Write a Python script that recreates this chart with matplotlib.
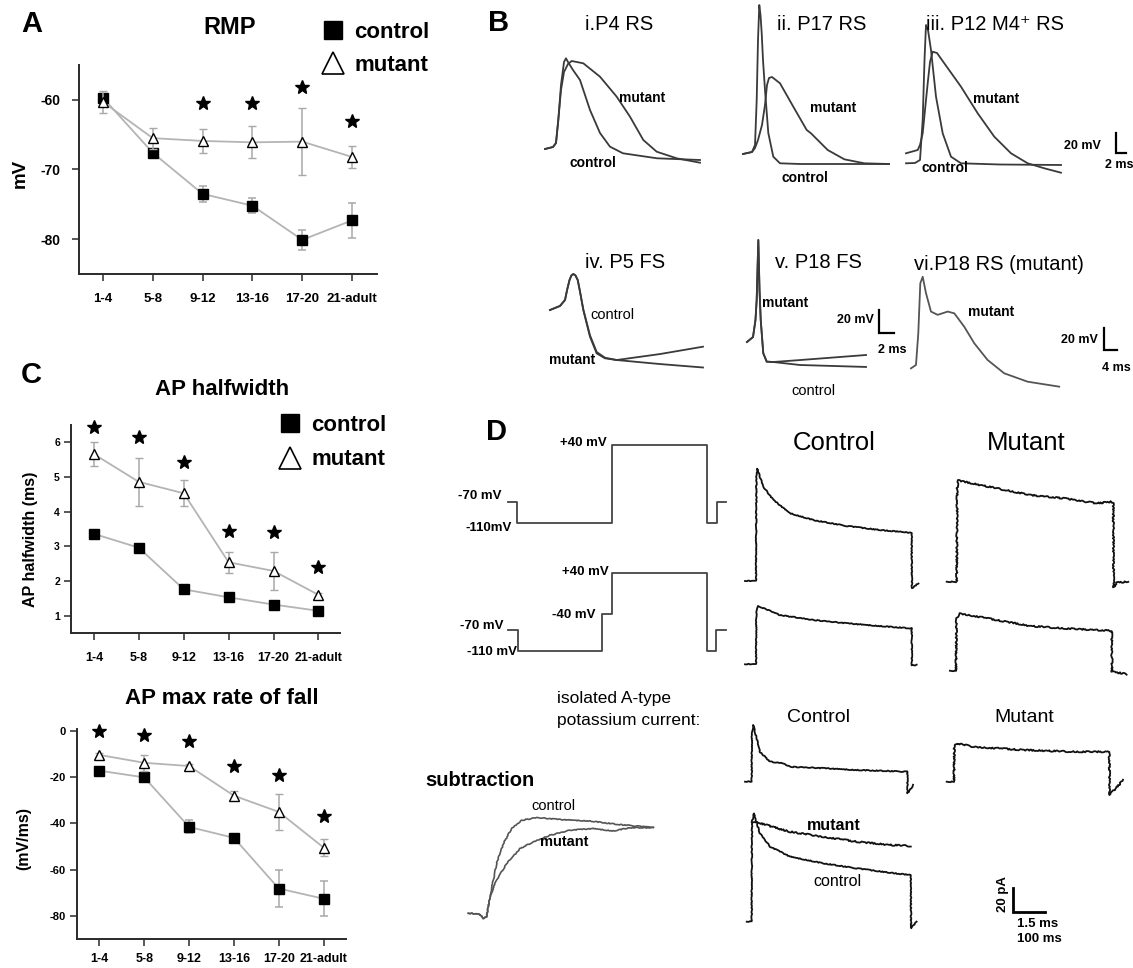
import numpy as np
import matplotlib
matplotlib.use("Agg")
import matplotlib.pyplot as plt
from matplotlib.lines import Line2D

plt.rcParams['font.family'] = ['Liberation Sans', 'DejaVu Sans']
plt.rcParams['axes.unicode_minus'] = False
NARROW = ['Liberation Sans Narrow', 'Liberation Sans', 'DejaVu Sans']

# ---------------- data ----------------
groups = ['1-4', '5-8', '9-12', '13-16', '17-20', '21-adult']

rmp_control = [-59.7, -67.6, -73.5, -75.2, -80.1, -77.3]
rmp_control_err = [0.6, 0.5, 1.1, 1.1, 1.4, 2.5]
rmp_mutant = [-60.3, -65.5, -65.9, -66.1, -66.0, -68.2]
rmp_mutant_err = [1.6, 1.5, 1.7, 2.3, 4.8, 1.6]
rmp_star_y = [np.nan, np.nan, -60.4, -60.4, -58.1, -63.1]

hw_control = [3.36, 2.96, 1.76, 1.53, 1.32, 1.14]
hw_control_err = [0.05, 0.05, 0.04, 0.04, 0.04, 0.03]
hw_mutant = [5.66, 4.86, 4.53, 2.54, 2.29, 1.60]
hw_mutant_err = [0.35, 0.69, 0.37, 0.30, 0.54, 0.05]
hw_star_y = [6.45, 6.16, 5.42, 3.45, 3.42, 2.41]

fall_control = [-17.3, -20.2, -41.6, -46.3, -68.2, -72.6]
fall_control_err = [1.0, 1.0, 2.8, 1.5, 8.1, 7.6]
fall_mutant = [-10.5, -13.9, -15.3, -28.1, -35.1, -50.5]
fall_mutant_err = [1.0, 3.5, 1.0, 2.0, 7.9, 3.7]
fall_star_y = [0.0, -1.9, -4.5, -15.3, -19.2, -36.8]

# B: action potentials (ms, mV relative to baseline)
p4_ctrl_t = [0, 1.6, 2.2, 2.66, 3.2, 3.8, 4.2, 4.6, 5.6, 7, 9, 11, 13, 15.6, 22.4, 31]
p4_ctrl_v = [0, 2, 6, 29, 64, 87, 90.7, 87, 79, 69, 39, 16, 2.3, -4.3, -9.3, -11]
p4_mut_t = [0, 1.6, 2.2, 2.66, 3.2, 3.8, 4.6, 5.34, 7.66, 11, 14.34, 17, 19.66, 22.34, 26.34, 31]
p4_mut_v = [0, 2, 6, 29, 59, 77, 85, 88, 85.7, 72.3, 52.3, 32.3, 9, -2.7, -9.3, -13.7]

p17_ctrl_t = [0, 1.8, 2.4, 2.74, 3, 3.26, 3.5, 3.74, 4, 4.4, 5.06, 6.06, 7.4, 11.4, 29.2]
p17_ctrl_v = [0, 2, 9, 54, 114, 149, 139, 121, 94, 64, 21, -2.7, -9.3, -10, -10]
p17_mut_t = [0, 1.8, 2.4, 3, 3.8, 4.4, 4.8, 5.2, 5.8, 7.4, 10.06, 12.74, 13.6, 16.94, 20.26, 24.26, 29.2]
p17_mut_v = [0, 2, 6, 14, 29, 49, 69, 76, 77, 70.7, 47.3, 24, 20.7, 4, -5.3, -9.3, -10]

p12_ctrl_t = [0, 1.8, 2.8, 3.34, 3.7, 4, 4.4, 5, 6, 7.34, 9, 11, 18.8, 31]
p12_ctrl_v = [-0.3, 0, 3, 43, 103, 138, 133, 113, 66.3, 29.7, 6.3, -0.3, -1.5, -2]
p12_mut_t = [0, 2.34, 2.8, 3.34, 3.8, 4.34, 4.8, 5.34, 6.2, 7.66, 11, 14.34, 17.66, 21, 24.34, 27.66, 31]
p12_mut_v = [9.7, 13, 18, 29.7, 53, 79.7, 101, 111.3, 110, 99.7, 76.3, 49.7, 26.3, 9.7, -0.3, -5.3, -9.7]

p5_ctrl_t = [0, 1.33, 2, 2.3, 2.6, 2.85, 3.11, 3.4, 3.7, 4.0, 4.44, 5.33, 6.22, 7.33, 8.89, 14.67, 20.4]
p5_ctrl_v = [0, 3.5, 8.7, 18, 26, 30, 31.3, 30, 26, 16, 0, -23.2, -37.7, -42, -43.5, -47, -50]
p5_mut_t = [0, 1.33, 2, 2.3, 2.6, 2.85, 3.11, 3.4, 3.7, 4.0, 4.44, 5.33, 6.22, 7.33, 8.89, 14.67, 20.4]
p5_mut_v = [0, 3.5, 8.7, 18, 26, 30, 31.3, 30, 26, 16, 0.5, -22, -36.5, -41.5, -43.5, -38.3, -31.9]

p18fs_ctrl_t = [0, 0.8, 1.13, 1.29, 1.51, 1.67, 1.83, 2.17, 2.63, 3.51, 7.07, 15.87]
p18fs_ctrl_v = [0, 4.3, 19.1, 36.5, 88.7, 45.2, 19.1, -9.8, -17.1, -17.4, -20, -21.7]
p18fs_mut_t = [0, 0.8, 1.13, 1.29, 1.51, 1.67, 1.83, 2.17, 2.63, 3.51, 7.07, 15.87]
p18fs_mut_v = [0, 4.3, 19.1, 36.5, 88.7, 45.2, 19.1, -9.8, -17.1, -17.4, -15.7, -11.3]

p18rs_mut_t = [0, 1.5, 2.19, 2.79, 3.51, 4.5, 6, 8.01, 11.02, 13, 16, 19, 23, 28, 35, 44.5]
p18rs_mut_v = [-0.3, 2.8, 32, 78, 84.1, 69, 52, 49, 52, 50.4, 38, 22.8, 7.4, -4.9, -12.6, -17.2]

# D: voltage protocols (ms, mV)
prot1_t = [0, 45, 45, 545, 545, 1045, 1045, 1100, 1100, 1145]
prot1_v = [-70, -70, -110, -110, 40, 40, -110, -110, -70, -70]
prot2_t = [0, 52, 52, 495, 495, 545, 545, 1045, 1045, 1095, 1095, 1145]
prot2_v = [-70, -70, -110, -110, -40, -40, 40, 40, -110, -110, -70, -70]

# D: currents (ms, pA)
ctrl_total_t = [0, 31.5, 34.7, 36, 38.8, 57.7, 89.3, 142, 215.5, 320.8, 425.9, 520.5, 525.9, 526.5, 546.7]
ctrl_total_i = [0, 0, 0, 90, 96, 80.6, 69.2, 57.9, 52.1, 47, 43.6, 41.3, 41.3, -6.2, -2]
ctrl_pre_t = [0, 31.5, 34.7, 36, 42, 110.4, 215.5, 320.8, 425.9, 520.5, 525.9, 526.5, 541.6]
ctrl_pre_i = [0, 0, 0, 45, 49.8, 42.1, 37.9, 35, 32.7, 30.8, 30.8, -0.9, -0.6]
mut_total_t = [0, 29, 31.5, 33, 36.6, 52.4, 157.7, 262.8, 367.8, 473.2, 520.5, 525.6, 526.5, 536.3, 572.9]
mut_total_i = [0, 0, 0, 80, 86.9, 85.5, 79.8, 74.1, 71.3, 67, 68.4, 67, -4.8, -0.9, 0]
mut_pre_t = [10, 29, 29.3, 31, 42, 157.7, 262.8, 367.8, 515, 520.5, 521.5, 567.8]
mut_pre_i = [0, 0, 0, 45, 49, 43.3, 38.2, 36.2, 34.2, 34.2, -0.9, -2.8]

ia_ctrl_t = [0, 21, 22, 26, 47, 79, 121, 142, 247, 352, 457, 510, 512, 513, 531]
ia_ctrl_i = [0, 0, 40, 48.5, 25.6, 17.1, 15.7, 12.8, 11.5, 10, 9.1, 8.5, 8.5, -9.9, -2.8]
ia_mut_t = [0, 23, 24, 31.5, 84, 241.6, 399.4, 504.7, 513, 514, 557]
ia_mut_i = [0, 0, 30, 32.8, 29.9, 27.1, 25.6, 25.6, 25.6, -11.4, 1.5]

ov_ctrl_t = [5.4, 21, 22, 28, 47, 79, 121, 142, 247, 352, 457, 520.5, 523, 524, 541.6]
ov_ctrl_i = [0, 0, 85, 92.6, 75.6, 64.1, 58.5, 55.6, 49.9, 45.6, 41.9, 39.9, 39.9, -5.6, 0]
ov_mut_t = [22, 31.5, 121, 142, 247, 352, 457, 523]
ov_mut_i = [85, 85.5, 78.4, 76.9, 72.6, 68.4, 65.6, 64.7]

sub_ctrl_t = [0, 0.55, 0.71, 0.87, 1.03, 1.34, 1.66, 2.05, 2.53, 3.24, 4.35, 5.77, 7.04, 8.77]
sub_ctrl_i = [0, -0.9, -4.3, -2.9, 14, 42.5, 59.6, 72.4, 79.5, 81.8, 80.1, 78.9, 76.1, 73.2]
sub_mut_t = [0, 0.55, 0.71, 0.87, 1.03, 1.34, 1.82, 2.45, 3.08, 3.87, 4.82, 5.92, 6.87, 7.66, 8.77]
sub_mut_i = [0, -0.9, -4.3, -2.9, 14, 28.5, 42.5, 55.3, 61, 66.7, 71, 72.4, 70.4, 73.2, 73.2]

# ---------------- figure ----------------
W, H = 1133, 968
fig = plt.figure(figsize=(W / 100, H / 100), dpi=100)
fig.patch.set_facecolor('white')


def box(x0, y0, x1, y1):
    return [x0 / W, 1 - y1 / H, (x1 - x0) / W, (y1 - y0) / H]


def ftxt(x, y, s, **kw):
    kw.setdefault('ha', 'center')
    kw.setdefault('va', 'center')
    fig.text(x / W, 1 - y / H, s, **kw)


LINE = '#b4b4b4'
ERR = '#a8a8a8'
AX = '#2a2a2a'


def dev_axes(rect, xlim, ylim, yticks, ctrl, ctrl_err, mut, mut_err, stars,
             ytick_fs, xtick_fs, ypad, xpad=9):
    ax = fig.add_axes(rect)
    x = np.arange(len(groups))
    ax.errorbar(x, ctrl, yerr=ctrl_err, color=LINE, lw=1.3, ecolor=ERR,
                elinewidth=1.1, capsize=3, capthick=1.1, marker='s', ms=6.5,
                mfc='black', mec='black', zorder=3)
    ax.errorbar(x, mut, yerr=mut_err, color=LINE, lw=1.3, ecolor=ERR,
                elinewidth=1.1, capsize=3, capthick=1.1, marker='^', ms=7.5,
                mfc='white', mec='black', mew=1.0, zorder=4)
    ax.plot(x, stars, ls='none', marker='*', ms=10.5, color='black',
            clip_on=False, zorder=5)
    ax.set_xlim(*xlim)
    ax.set_ylim(*ylim)
    ax.set_yticks(yticks)
    ax.set_xticks(x)
    ax.set_xticklabels(groups, fontweight='bold', fontsize=xtick_fs)
    for lab in ax.get_yticklabels():
        lab.set_fontweight('bold')
        lab.set_fontsize(ytick_fs)
    for s in ('top', 'right'):
        ax.spines[s].set_visible(False)
    for s in ('left', 'bottom'):
        ax.spines[s].set_color(AX)
        ax.spines[s].set_linewidth(1.4)
    ax.tick_params(axis='x', direction='out', length=5, width=1.1, pad=xpad,
                   colors=AX, labelcolor='black')
    ax.tick_params(axis='y', direction='out', length=5, width=1.1, pad=ypad,
                   colors=AX, labelcolor='black')
    ax.set_facecolor('none')
    return ax


def dev_legend(ax, x_left, y_top, spacing):
    h = [Line2D([], [], ls='none', marker='s', ms=13, mfc='black', mec='black'),
         Line2D([], [], ls='none', marker='^', ms=16, mfc='white', mec='black', mew=1.2)]
    ax.legend(h, ['control', 'mutant'], loc='upper left',
              bbox_to_anchor=(x_left / W, 1 - y_top / H),
              bbox_transform=fig.transFigure, frameon=False,
              prop={'weight': 'bold', 'size': 16}, handlelength=1.0,
              handletextpad=0.45, borderpad=0, borderaxespad=0,
              labelspacing=spacing)


# ---- Panel A ----
axA = dev_axes(box(79, 65, 377, 274), (-0.48, 5.5), (-85, -55), [-60, -70, -80],
               rmp_control, rmp_control_err, rmp_mutant, rmp_mutant_err,
               rmp_star_y, 10, 9.5, 8)
dev_legend(axA, 322, 22, 0.55)
ftxt(32, 24, 'A', fontsize=21, fontweight='bold')
ftxt(230, 28, 'RMP', fontsize=17, fontweight='bold')
ftxt(20, 173, 'mV', fontsize=13.5, fontweight='bold', rotation=90)

# ---- Panel C ----
axC1 = dev_axes(box(71, 425, 340, 633), (-0.51, 5.48), (0.5, 6.5), [1, 2, 3, 4, 5, 6],
                hw_control, hw_control_err, hw_mutant, hw_mutant_err,
                hw_star_y, 7.5, 9, 3)
dev_legend(axC1, 279, 415, 0.6)
ftxt(31, 375, 'C', fontsize=21, fontweight='bold')
ftxt(222, 389, 'AP halfwidth', fontsize=16, fontweight='bold')
ftxt(31, 539, 'AP halfwidth (ms)', fontsize=11.5, fontweight='bold', rotation=90)

axC2 = dev_axes(box(77, 729, 346, 939), (-0.5, 5.5), (-90, 0.7), [0, -20, -40, -60, -80],
                fall_control, fall_control_err, fall_mutant, fall_mutant_err,
                fall_star_y, 8, 9, 3, xpad=5)
ftxt(222, 699, 'AP max rate of fall', fontsize=16, fontweight='bold')
ftxt(24, 838, '(mV/ms)', fontsize=11.5, fontweight='bold', rotation=90)

# ---------------- trace helper ----------------
TR = '#3a3a3a'


def trace_axes(ox, oy, sx, sy, xlim, ylim):
    left = ox + xlim[0] * sx
    right = ox + xlim[1] * sx
    top = oy - ylim[1] * sy
    bottom = oy - ylim[0] * sy
    ax = fig.add_axes(box(left, top, right, bottom))
    ax.set_xlim(*xlim)
    ax.set_ylim(*ylim)
    ax.axis('off')
    return ax


def tr(ax, t, v, color=TR, lw=1.3, sketch=None):
    ln, = ax.plot(t, v, color=color, lw=lw, clip_on=False,
                  solid_joinstyle='round')
    if sketch is not None:
        ln.set_sketch_params(*sketch)
    return ln


def scalebar(ax, x0, y0, dx, dy, lw=1.6):
    ax.plot([x0, x0, x0 + dx], [y0 + dy, y0, y0], color='black', lw=lw,
            clip_on=False, solid_joinstyle='miter')


NL = dict(family=NARROW, fontweight='bold', fontsize=10)

# ---- Panel B ----
ftxt(499, 23, 'B', fontsize=21, fontweight='bold')
ftxt(619, 25, 'i.P4 RS', fontsize=14.5)
ftxt(822, 25, 'ii. P17 RS', fontsize=14.5)
ftxt(995, 25, 'iii. P12 M4\u207a RS', fontsize=14.5)
ftxt(625, 263, 'iv. P5 FS', fontsize=14.5)
ftxt(818, 263, 'v. P18 FS', fontsize=14.5)
ftxt(999, 264, 'vi.P18 RS (mutant)', fontsize=14.5)

axi = trace_axes(545, 149, 5, 1, (-2, 32), (-20, 95))
tr(axi, p4_ctrl_t, p4_ctrl_v)
tr(axi, p4_mut_t, p4_mut_v)
ftxt(642, 98, 'mutant', **NL)
ftxt(593, 163, 'control', **NL)

axii = trace_axes(743, 154, 5, 1, (-2, 30), (-15, 152))
tr(axii, p17_ctrl_t, p17_ctrl_v)
tr(axii, p17_mut_t, p17_mut_v)
ftxt(833, 108, 'mutant', **NL)
ftxt(805, 178, 'control', **NL)

axiii = trace_axes(906, 163, 5, 1, (-2, 46), (-15, 140))
tr(axiii, p12_ctrl_t, p12_ctrl_v)
tr(axiii, p12_mut_t, p12_mut_v)
scalebar(axiii, 42, 10, 2, 20)
ftxt(996, 99, 'mutant', **NL)
ftxt(945, 168, 'control', **NL)
ftxt(1101, 146, '20 mV', ha='right', family=NARROW, fontweight='bold', fontsize=9)
ftxt(1119, 165, '2 ms', family=NARROW, fontweight='bold', fontsize=9)

axiv = trace_axes(550, 310, 7.5, 1.15, (-1, 21), (-55, 35))
tr(axiv, p5_ctrl_t, p5_ctrl_v)
tr(axiv, p5_mut_t, p5_mut_v)
ftxt(612, 315, 'control', family=NARROW, fontsize=10.5)
ftxt(572, 360, 'mutant', **NL)

axv = trace_axes(747, 342, 7.5, 1.15, (-1, 20.5), (-25, 92))
tr(axv, p18fs_ctrl_t, p18fs_ctrl_v)
tr(axv, p18fs_mut_t, p18fs_mut_v)
scalebar(axv, 17.6, 7.6, 2, 20)
ftxt(785, 303, 'mutant', **NL)
ftxt(813, 391, 'control', family=NARROW, fontsize=10.5)
ftxt(874, 320, '20 mV', ha='right', family=NARROW, fontweight='bold', fontsize=9)
ftxt(892, 350, '2 ms', family=NARROW, fontweight='bold', fontsize=9)

axvi = trace_axes(911, 368, 3.33, 1.085, (-1, 63), (-20, 90))
tr(axvi, p18rs_mut_t, p18rs_mut_v, color='#555555')
scalebar(axvi, 58, 16.6, 4, 20)
ftxt(991, 312, 'mutant', **NL)
ftxt(1098, 340, '20 mV', ha='right', family=NARROW, fontweight='bold', fontsize=9)
ftxt(1116, 368, '4 ms', family=NARROW, fontweight='bold', fontsize=9)

# ---- Panel D ----
ftxt(496, 432, 'D', fontsize=21, fontweight='bold')
PR = '#444444'
VL = dict(fontsize=9.5, fontweight='bold', ha='right')

axp1 = trace_axes(508.3, 465.9, 0.19, 0.52, (-5, 1150), (-115, 45))
tr(axp1, prot1_t, prot1_v, color=PR, lw=1.3)
ftxt(607, 443, '+40 mV', **VL)
ftxt(502, 496, '-70 mV', **VL)
ftxt(512, 528, '-110mV', **VL)

axp2 = trace_axes(508.3, 593.6, 0.19, 0.52, (-5, 1150), (-115, 45))
tr(axp2, prot2_t, prot2_v, color=PR, lw=1.3)
ftxt(609, 572, '+40 mV', **VL)
ftxt(595, 615, '-40 mV', **VL)
ftxt(503, 626, '-70 mV', **VL)
ftxt(517, 652, '-110 mV', **VL)

ftxt(834, 443, 'Control', fontsize=18.5)
ftxt(1026, 443, 'Mutant', fontsize=18.5)

SX, SY = 0.317, 1.17
NOISY = (0.7, 2.5, 12)
LIGHT = (0.4, 3, 12)
CT = '#111111'

ax_c1 = trace_axes(745, 581, SX, SY, (-5, 560), (-10, 100))
tr(ax_c1, ctrl_total_t, ctrl_total_i, color=CT, lw=1.3, sketch=LIGHT)
ax_c2 = trace_axes(745, 664.3, SX, SY, (-5, 560), (-10, 55))
tr(ax_c2, ctrl_pre_t, ctrl_pre_i, color=CT, lw=1.3, sketch=LIGHT)
ax_m1 = trace_axes(946.7, 581.7, SX, SY, (-5, 580), (-10, 100))
tr(ax_m1, mut_total_t, mut_total_i, color=CT, lw=1.3, sketch=NOISY)
ax_m2 = trace_axes(946.7, 670.7, SX, SY, (-5, 580), (-10, 55))
tr(ax_m2, mut_pre_t, mut_pre_i, color=CT, lw=1.3, sketch=NOISY)

ftxt(557, 699, 'isolated A-type', fontsize=12.5, ha='left')
ftxt(557, 721, 'potassium current:', fontsize=12.5, ha='left')
ftxt(819, 718, 'Control', fontsize=14)
ftxt(1024, 718, 'Mutant', fontsize=14)

ax_ac = trace_axes(745, 781.7, SX, SY, (-5, 560), (-15, 55))
tr(ax_ac, ia_ctrl_t, ia_ctrl_i, color=CT, lw=1.3, sketch=LIGHT)
ax_am = trace_axes(946.7, 781.7, SX, SY, (-5, 580), (-15, 55))
tr(ax_am, ia_mut_t, ia_mut_i, color=CT, lw=1.3, sketch=NOISY)
scalebar(ax_am, 210, -111.1, 100, 20, lw=2.0)
ftxt(1003, 894, '20 pA', fontsize=9.5, fontweight='bold', rotation=90)
ftxt(1017, 924, '1.5 ms', fontsize=9.5, fontweight='bold', ha='left')
ftxt(1017, 938.5, '100 ms', fontsize=9.5, fontweight='bold', ha='left')

ax_ov = trace_axes(745, 921.7, SX, SY, (-5, 560), (-10, 100))
tr(ax_ov, ov_ctrl_t, ov_ctrl_i, color=CT, lw=1.3, sketch=LIGHT)
tr(ax_ov, ov_mut_t, ov_mut_i, color=CT, lw=1.3, sketch=NOISY)
ftxt(834, 825, 'mutant', family=NARROW, fontweight='bold', fontsize=11.5)
ftxt(837, 882, 'control', family=NARROW, fontsize=11.5)

ftxt(425, 780, 'subtraction', fontsize=14.5, fontweight='bold', ha='left')
ax_sub = trace_axes(468.3, 913.3, 21.1, 1.17, (-0.5, 9.5), (-10, 90))
tr(ax_sub, sub_ctrl_t, sub_ctrl_i, color='#555555', lw=1.2, sketch=(0.4, 3, 12))
tr(ax_sub, sub_mut_t, sub_mut_i, color='#555555', lw=1.2, sketch=(0.4, 3, 12))
ftxt(553, 806, 'control', family=NARROW, fontsize=10.5)
ftxt(564, 842, 'mutant', family=NARROW, fontweight='bold', fontsize=10.5)

fig.savefig('out.png', dpi=100, facecolor='white')
